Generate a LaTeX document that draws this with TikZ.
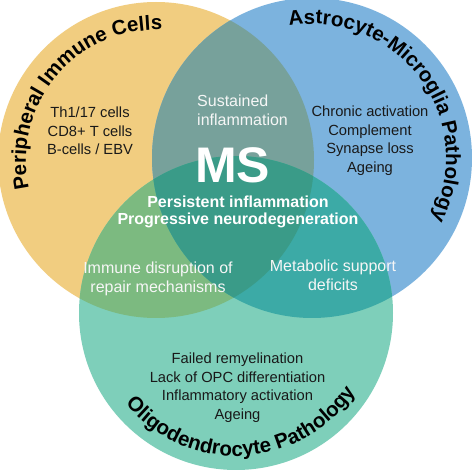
\documentclass[tikz,border=0pt]{standalone}
\usepackage{fontspec}
\setmainfont{Liberation Sans}
\usetikzlibrary{decorations.text,calc}
\definecolor{cO}{RGB}{241,205,128}
\definecolor{cB}{RGB}{124,179,222}
\definecolor{cG}{RGB}{126,207,186}
\definecolor{cOB}{RGB}{119,161,155}
\definecolor{cOG}{RGB}{124,186,128}
\definecolor{cBG}{RGB}{60,170,166}
\definecolor{cOBG}{RGB}{58,155,136}
\definecolor{ink}{RGB}{25,25,25}
\definecolor{wtext}{RGB}{246,246,246}
\newcommand\arctitlefont{\fontsize{20.5}{24}\selectfont\bfseries}
\begin{document}
\begin{tikzpicture}[x=1pt,y=1pt,
  listtext/.style={anchor=base, inner sep=0pt, text=ink, font=\fontsize{14.7}{17}\selectfont},
  wlabel/.style={anchor=base, inner sep=0pt, text=wtext, font=\fontsize{16}{19}\selectfont},
  wbold/.style={anchor=base, inner sep=0pt, text=white, font=\fontsize{16}{19}\selectfont\bfseries},
  arctitle/.style={decorate, decoration={text along path, text align=center, text color=black}},
]
\useasboundingbox (0,0) rectangle (472,472);
\clip (0,0) rectangle (472,472);
\fill[white] (0,0) rectangle (472,472);
\coordinate (O) at (156,312);
\coordinate (B) at (312,314);
\coordinate (G) at (236,159);
\def\rO{158pt}\def\rB{160pt}\def\rG{157pt}
% base circles
\fill[cO] (O) circle[radius=\rO];
\fill[cB] (B) circle[radius=\rB];
\fill[cG] (G) circle[radius=\rG];
% pairwise overlaps
\begin{scope}
  \clip (O) circle[radius=\rO];
  \fill[cOB] (B) circle[radius=\rB];
  \fill[cOG] (G) circle[radius=\rG];
\end{scope}
\begin{scope}
  \clip (B) circle[radius=\rB];
  \fill[cBG] (G) circle[radius=\rG];
\end{scope}
% triple overlap
\begin{scope}
  \clip (O) circle[radius=\rO];
  \clip (B) circle[radius=\rB];
  \fill[cOBG] (G) circle[radius=\rG];
\end{scope}
% curved titles
\path[arctitle, decoration={text={|\arctitlefont|Peripheral Immune Cells}}]
  ($(O)+(200:130)$) arc[start angle=200, end angle=80, radius=130pt];
\path[arctitle, decoration={text={|\arctitlefont|Astrocyte-Microglia Pathology}}]
  ($(B)+(106.5:134)$) arc[start angle=106.5, end angle=-33.5, radius=134pt];
\path[arctitle, decoration={text={|\arctitlefont|Oligodendrocyte Pathology}}]
  ($(G)+(205:143)$) arc[start angle=205, end angle=341, radius=143pt];
% peripheral immune list
\node[listtext] (o1) at (90,354) {Th1/17 cells};
\node[listtext] (o2) at (90,335) {CD8+ T cells};
\node[listtext] (o3) at (90,317) {B-cells / EBV};
% astrocyte list
\node[listtext] (b1) at (370,355) {Chronic activation};
\node[listtext] (b2) at (370,336.5) {Complement};
\node[listtext] (b3) at (370,318) {Synapse loss};
\node[listtext] (b4) at (370,299.5) {Ageing};
% oligodendrocyte list
\node[listtext] (g1) at (237.5,108) {Failed remyelination};
\node[listtext] (g2) at (237.5,89.5) {Lack of OPC differentiation};
\node[listtext] (g3) at (237.5,71) {Inflammatory activation};
\node[listtext] (g4) at (237.5,52.5) {Ageing};
% overlap labels
\node[wlabel, anchor=base west] (s1) at (197,365) {Sustained};
\node[wlabel, anchor=base west] (s2) at (197,346.5) {inflammation};
\node[wlabel] (i1) at (158,198) {Immune disruption of};
\node[wlabel] (i2) at (158,179) {repair mechanisms};
\node[wlabel] (m1) at (333,200) {Metabolic support};
\node[wlabel] (m2) at (333,181) {deficits};
% centre
\node[text=white, inner sep=0pt, font=\fontsize{50}{55}\selectfont\bfseries] (ms) at (232.5,307) {MS};
\node[wbold] (c1) at (238,264) {Persistent inflammation};
\node[wbold] (c2) at (238,247) {Progressive neurodegeneration};
\end{tikzpicture}
\end{document}
